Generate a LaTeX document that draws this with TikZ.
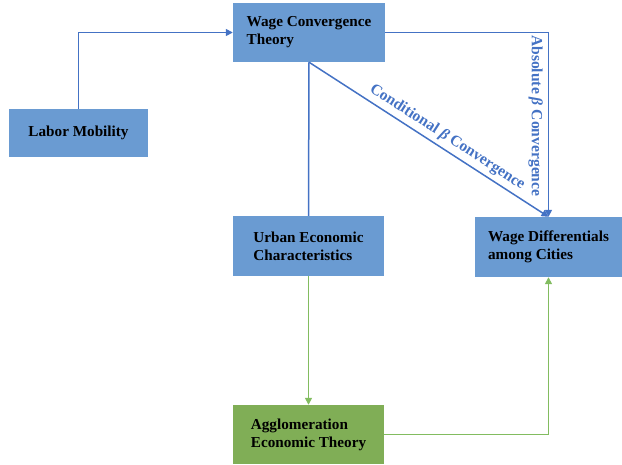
\documentclass[tikz,border=0pt]{standalone}
\usepackage{fontspec}
\setmainfont{Liberation Serif}
\usetikzlibrary{arrows.meta}
\definecolor{boxblue}{RGB}{106,155,210}
\definecolor{boxgreen}{RGB}{128,174,86}
\definecolor{lineblue}{RGB}{68,114,196}
\definecolor{linegreen}{RGB}{130,188,96}
\begin{document}
\begin{tikzpicture}[x=1pt,y=-1pt]
\useasboundingbox (0,0) rectangle (622,464);
\tikzstyle{v}=[rectangle,fill=boxblue,inner sep=0pt,align=left,font=\fontsize{15.2}{18}\selectfont\bfseries]
\tikzstyle{bl}=[draw=lineblue,line width=1.5pt,-{Triangle[length=7pt,width=7pt]}]
\tikzstyle{gr}=[draw=linegreen,line width=1.5pt,-{Triangle[length=7pt,width=7pt]}]
\tikzstyle{lab}=[text=lineblue,font=\fontsize{15.6}{18}\selectfont\bfseries,inner sep=1pt]

\node[v,minimum width=152pt,minimum height=59pt] (wct) at (309,32.5) {Wage Convergence\\Theory};
\node[v,minimum width=139pt,minimum height=48pt] (lm) at (78.5,133) {Labor Mobility};
\node[v,minimum width=151pt,minimum height=60pt] (uec) at (308.5,246) {Urban Economic\\Characteristics};
\node[v,minimum width=147pt,minimum height=60pt] (wd) at (548.5,247) {Wage Differentials\\among Cities};
\node[v,fill=boxgreen,minimum width=151pt,minimum height=59pt] (aet) at (308.5,434.5) {Agglomeration\\Economic Theory};

\draw[bl] (lm.north) |- (wct.west);
\draw[bl] (wct.east) -| node[lab,sloped,below=4pt,pos=0.726] {Absolute \textit{β} Convergence} (wd.north);
\draw[bl] (wct.south) -- node[lab,sloped,above=3pt,pos=0.55] {Conditional \textit{β} Convergence} (wd.north);
\draw[bl,-] (wct.south) -- (uec.north);
\draw[gr] (uec.south) -- (aet.north);
\draw[gr] (aet.east) -| (wd.south);
\end{tikzpicture}
\end{document}
